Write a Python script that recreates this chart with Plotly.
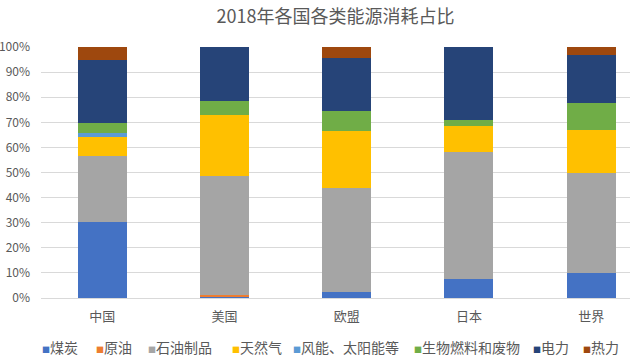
import plotly.graph_objects as go

regions = ["中国", "美国", "欧盟", "日本", "世界"]
sources = ["煤炭", "原油", "石油制品", "天然气", "风能、太阳能等", "生物燃料和废物", "电力", "热力"]
colors = ["#4472C4", "#ED7D31", "#A5A5A5", "#FFC000", "#5B9BD5", "#70AD47", "#264478", "#9E480E"]

# shares (%) per source, in region order
coal = [30.4, 0.4, 2.5, 7.4, 9.8]
crude = [0.0, 0.8, 0.0, 0.0, 0.0]
oil_products = [26.2, 47.5, 41.4, 50.9, 40.1]
gas = [7.7, 24.2, 22.8, 10.3, 17.0]
wind_solar = [1.6, 0.0, 0.0, 0.0, 0.0]
biofuel = [3.9, 5.6, 7.9, 2.3, 10.7]
electricity = [25.0, 21.5, 20.9, 29.1, 19.2]
heat = [5.2, 0.0, 4.5, 0.0, 3.2]

series = [coal, crude, oil_products, gas, wind_solar, biofuel, electricity, heat]
y_ticks = [i / 10 for i in range(11)]

FONT = "Noto Sans CJK SC, Noto Sans, sans-serif"
GREY = "#595959"

fig = go.Figure()
for name, vals, col in zip(sources, series, colors):
    fig.add_trace(go.Bar(
        x=regions, y=[v / 100 for v in vals], name=name,
        marker=dict(color=col, line=dict(width=0)),
        width=0.40, showlegend=False,
    ))

# legend rendered as text entries below the plot
legend_x = [40, 94, 146, 230, 291, 412, 531, 581]
L, R, T, B = 41, 5, 47, 63
W, H = 635, 361
pw, ph = W - L - R, H - T - B
for name, col, px in zip(sources, colors, legend_x):
    fig.add_annotation(
        xref="paper", yref="paper",
        x=(px - L) / pw, y=(T + ph - 347) / ph,
        xanchor="left", yanchor="middle", showarrow=False,
        text=f'<span style="color:{col};font-size:8px">■</span>{name}',
        font=dict(family=FONT, size=14, color=GREY),
    )

fig.update_layout(
    width=W, height=H,
    barmode="stack",
    margin=dict(l=L, r=R, t=T, b=B),
    paper_bgcolor="white", plot_bgcolor="white",
    title=dict(text="2018年各国各类能源消耗占比", x=0.5, xref="paper", xanchor="center",
               y=1 - 17 / H, yanchor="middle",
               font=dict(family=FONT, size=18, color=GREY)),
    font=dict(family=FONT, size=12, color=GREY),
    bargap=0.6,
)
fig.update_xaxes(
    range=[-0.5, -0.5 + pw / 122.25], automargin=False,
    showgrid=False, showline=True, linecolor="#D9D9D9", linewidth=1,
    ticks="", tickfont=dict(family=FONT, size=13, color=GREY),
    ticklabelstandoff=6,
)
fig.update_yaxes(
    range=[0, 1], tickvals=y_ticks, tickformat=".0%", automargin=False,
    showgrid=True, gridcolor="#D9D9D9", gridwidth=1,
    zeroline=False, showline=False, ticks="",
    tickfont=dict(family=FONT, size=12, color=GREY),
    ticklabelstandoff=10,
)

fig.write_html("out.html", config={"displayModeBar": False},
               post_script="document.body.style.margin='0';document.body.style.overflow='hidden';")
